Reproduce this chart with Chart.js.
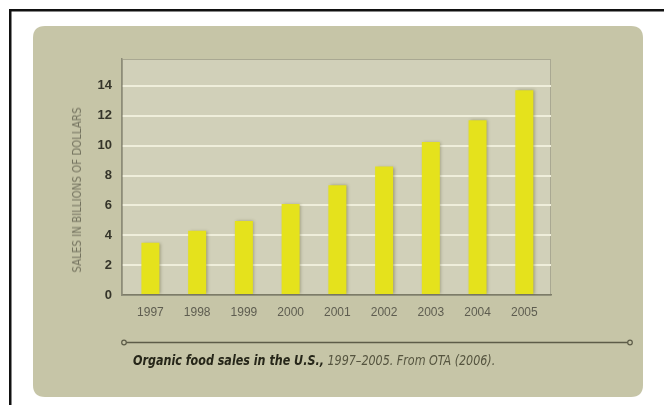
<!DOCTYPE html>
<html><head><meta charset="utf-8">
<script src="https://cdn.jsdelivr.net/npm/chart.js@4"></script>
<style>
html,body{margin:0;padding:0;background:#fff;}
#wrap{position:relative;width:664px;height:405px;overflow:hidden;}
#c{position:absolute;left:0;top:0;}
.ytitle{position:absolute;left:76.5px;top:190px;transform:translate(-50%,-50%) rotate(-90deg) scaleX(0.95);white-space:nowrap;
  font:12px 'DejaVu Sans Condensed','Liberation Sans Narrow',sans-serif;color:#74735f;line-height:12px;}
.caption{position:absolute;left:133px;top:352px;white-space:nowrap;line-height:14px;transform:scaleX(0.885);transform-origin:0 0;
  font:italic 14px 'DejaVu Sans Condensed','Liberation Sans Narrow',sans-serif;color:#55543f;}
.caption b{color:#262619;font-weight:bold;}
</style>
</head><body>
<div id="wrap">
<canvas id="c" width="664" height="405"></canvas>
<div class="ytitle">SALES IN BILLIONS OF DOLLARS</div>
<div class="caption"><b>Organic food sales in the U.S.,</b> 1997–2005. From OTA (2006).</div>
</div>
<script>
const years = ['1997','1998','1999','2000','2001','2002','2003','2004','2005'];
const sales = [3.5, 4.3, 4.95, 6.1, 7.35, 8.6, 10.25, 11.7, 13.7];
const yTicks = [0, 2, 4, 6, 8, 10, 12, 14];

const TICKFONT = "'Liberation Sans',Arial,sans-serif";
const PANEL = '#c6c5a7';
const PLOT = '#d1d0b9';

function roundRect(ctx, x, y, w, h, r) {
  ctx.beginPath();
  ctx.moveTo(x + r, y);
  ctx.lineTo(x + w - r, y);
  ctx.quadraticCurveTo(x + w, y, x + w, y + r);
  ctx.lineTo(x + w, y + h - r);
  ctx.quadraticCurveTo(x + w, y + h, x + w - r, y + h);
  ctx.lineTo(x + r, y + h);
  ctx.quadraticCurveTo(x, y + h, x, y + h - r);
  ctx.lineTo(x, y + r);
  ctx.quadraticCurveTo(x, y, x + r, y);
  ctx.closePath();
}

const decor = {
  id: 'decor',
  beforeDraw(chart) {
    const ctx = chart.ctx, a = chart.chartArea;
    ctx.save();
    ctx.fillStyle = '#fff';
    ctx.fillRect(0, 0, chart.width, chart.height);
    ctx.fillStyle = '#111';
    ctx.fillRect(9, 9, chart.width - 9, 2.5);
    ctx.fillRect(9, 9, 2.5, chart.height - 9);
    ctx.fillStyle = PANEL;
    roundRect(ctx, 33, 26, 610, 371, 12);
    ctx.fill();
    ctx.fillStyle = PLOT;
    ctx.fillRect(a.left, a.top, a.right - a.left, a.bottom - a.top);
    ctx.strokeStyle = '#a9a892';
    ctx.lineWidth = 1;
    ctx.strokeRect(a.left + 0.5, a.top + 0.5, a.right - a.left - 1, a.bottom - a.top);
    ctx.restore();
  },
  beforeDatasetsDraw(chart) {
    const ctx = chart.ctx;
    ctx.save();
    ctx.shadowColor = 'rgba(90,88,50,0.45)';
    ctx.shadowBlur = 3;
    ctx.shadowOffsetX = 1.5;
    ctx.shadowOffsetY = 0;
  },
  afterDatasetsDraw(chart) {
    chart.ctx.restore();
  },
  afterDraw(chart) {
    const ctx = chart.ctx;
    ctx.save();
    ctx.strokeStyle = '#5d5c48';
    ctx.lineWidth = 1.6;
    ctx.beginPath();
    ctx.moveTo(124, 342.5);
    ctx.lineTo(630, 342.5);
    ctx.stroke();
    ctx.fillStyle = PANEL;
    ctx.lineWidth = 1.2;
    [124, 630].forEach(x => {
      ctx.beginPath();
      ctx.arc(x, 342.5, 2.3, 0, Math.PI * 2);
      ctx.fill();
      ctx.stroke();
    });
    ctx.restore();
  }
};

new Chart(document.getElementById('c'), {
  type: 'bar',
  data: {
    datasets: [{
      data: sales.map((v, i) => ({ x: i, y: v })),
      backgroundColor: '#e5e21c',
      borderWidth: 0,
      barPercentage: 0.385,
      categoryPercentage: 1
    }]
  },
  options: {
    responsive: false,
    animation: false,
    devicePixelRatio: 1,
    layout: { padding: { left: 0, top: 59, right: 113, bottom: 80 } },
    plugins: { legend: { display: false }, tooltip: { enabled: false }, title: { display: false } },
    scales: {
      x: {
        type: 'linear',
        min: -0.608,
        max: 8.571,
        offset: false,
        grid: { display: false, drawTicks: false },
        border: { display: true, color: '#7d7c68', width: 1.5 },
        afterBuildTicks: s => { s.ticks = years.map((_, i) => ({ value: i })); },
        afterFit: s => { s.height = 30; },
        ticks: {
          autoSkip: false, maxRotation: 0, padding: 10,
          color: '#5e5d50',
          font: { family: TICKFONT, size: 12 },
          callback: v => years[v]
        }
      },
      y: {
        min: 0,
        max: 15.8,
        afterBuildTicks: s => { s.ticks = yTicks.map(v => ({ value: v })); },
        afterFit: s => { s.width = 122; },
        grid: {
          drawTicks: false,
          lineWidth: 2,
          color: c => (c.tick && c.tick.value === 0) ? 'rgba(0,0,0,0)' : '#efeedb'
        },
        border: { display: true, color: '#8d8c78', width: 1.5 },
        ticks: {
          padding: 10,
          color: '#35352a',
          font: { family: TICKFONT, size: 13, weight: 'bold' }
        }
      }
    }
  },
  plugins: [decor]
});
</script>
</body></html>
